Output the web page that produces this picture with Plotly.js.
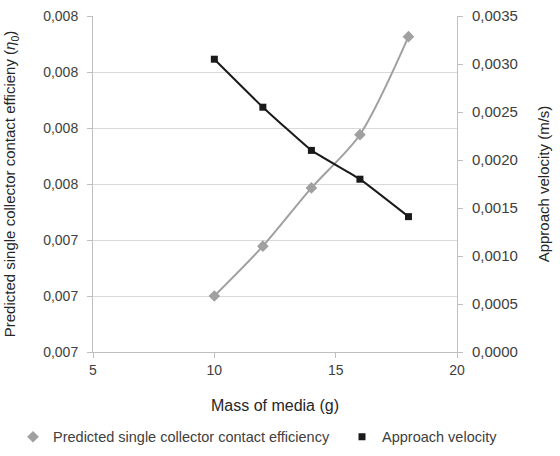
<!DOCTYPE html>
<html>
<head>
<meta charset="utf-8">
<script src="https://cdn.plot.ly/plotly-3.0.1.min.js"></script>
<style>html,body{margin:0;padding:0;background:#fff;}#chart{width:560px;height:456px;}</style>
</head>
<body>
<div id="chart"></div>
<script>
var massOfMedia = [10, 12, 14, 16, 18];
var contactEfficiency = [0.00730, 0.007389, 0.007493, 0.007588, 0.007763];
var approachVelocity = [0.00305, 0.00255, 0.00210, 0.00180, 0.00141];
var leftTickVals = [0.0072, 0.0073, 0.0074, 0.0075, 0.0076, 0.0077, 0.0078];
var leftTickText = ['0,007', '0,007', '0,007', '0,008', '0,008', '0,008', '0,008'];
var xTicks = [5, 10, 15, 20];
var seriesNames = ['Predicted single collector contact efficiency', 'Approach velocity'];

var grayC = '#a0a0a0';
var blackC = '#1a1a1a';
var txtC = '#404040';

var traces = [
  {x: massOfMedia, y: contactEfficiency, type: 'scatter', mode: 'lines',
   line: {color: grayC, width: 2, shape: 'spline', smoothing: 0.8},
   showlegend: false, yaxis: 'y', hoverinfo: 'skip'},
  {x: massOfMedia, y: contactEfficiency, type: 'scatter', mode: 'markers',
   marker: {symbol: 'diamond', color: grayC, size: 9},
   name: seriesNames[0], yaxis: 'y', legend: 'legend'},
  {x: massOfMedia, y: approachVelocity, type: 'scatter', mode: 'lines',
   line: {color: blackC, width: 2, shape: 'spline', smoothing: 0.3},
   showlegend: false, yaxis: 'y2', hoverinfo: 'skip'},
  {x: massOfMedia, y: approachVelocity, type: 'scatter', mode: 'markers',
   marker: {symbol: 'square', color: blackC, size: 7},
   name: seriesNames[1], yaxis: 'y2', legend: 'legend2'}
];

var legendBase = {orientation: 'h', xref: 'container', yref: 'container',
  xanchor: 'left', y: 0.042, yanchor: 'middle',
  font: {size: 14.5, color: txtC}, itemwidth: 30, bgcolor: 'rgba(0,0,0,0)'};

var layout = {
  width: 560, height: 456,
  margin: {l: 93, r: 103, t: 16, b: 104},
  paper_bgcolor: '#ffffff', plot_bgcolor: '#ffffff',
  separators: ',.',
  font: {family: 'Liberation Sans, Arial, sans-serif', size: 14, color: txtC},
  showlegend: true,
  legend: Object.assign({}, legendBase, {x: 13 / 560}),
  legend2: Object.assign({}, legendBase, {x: 342 / 560}),
  xaxis: {
    range: [5, 20], tickvals: xTicks, showgrid: false, zeroline: false,
    showline: true, linecolor: '#bfbfbf', linewidth: 1,
    ticks: 'outside', ticklen: 5, tickcolor: '#bfbfbf',
    tickfont: {size: 14, color: txtC},
    title: {text: 'Mass of media (g)', font: {size: 16, color: '#262626'}, standoff: 23}
  },
  yaxis: {
    range: [0.0072, 0.0078], tickvals: leftTickVals, ticktext: leftTickText,
    showgrid: true, gridcolor: '#d9d9d9', zeroline: false,
    showline: true, linecolor: '#bfbfbf', linewidth: 1,
    ticks: 'outside', ticklen: 5, tickcolor: '#bfbfbf', ticklabelstandoff: 6,
    tickfont: {size: 14, color: txtC},
    title: {text: 'Predicted single collector contact efficieny (<i>η</i><sub>0</sub>)', font: {size: 15, color: '#262626'}, standoff: 23}
  },
  yaxis2: {
    overlaying: 'y', side: 'right',
    range: [0, 0.0035], dtick: 0.0005, tick0: 0, tickformat: '.4f',
    showgrid: false, zeroline: false,
    showline: true, linecolor: '#bfbfbf', linewidth: 1,
    ticks: 'outside', ticklen: 5, tickcolor: '#bfbfbf', ticklabelstandoff: 6,
    tickfont: {size: 15, color: txtC},
    title: {text: 'Approach velocity (m/s)', font: {size: 15, color: '#262626'}, standoff: 21}
  }
};

Plotly.newPlot('chart', traces, layout, {displayModeBar: false, staticPlot: true});
</script>
</body>
</html>
